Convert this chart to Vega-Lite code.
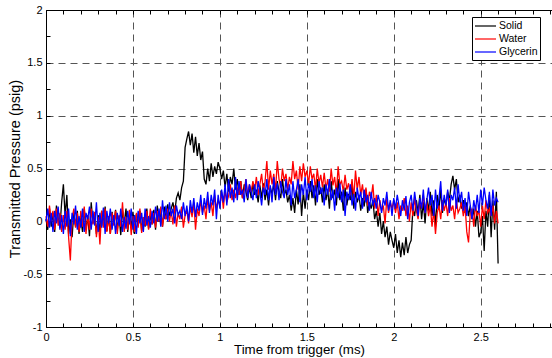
{
"$schema":"https://vega.github.io/schema/vega-lite/v6.json",
"width":506,"height":317,
"autosize":{"type":"none"},
"padding":{"left":46,"top":10,"right":0,"bottom":31},
"background":"white",
"config":{"font":"Liberation Sans","view":{"stroke":"black","strokeWidth":1}},
"data":{"values":[
{"t":0.00,"Solid":0.02,"Water":0.05,"Glycerin":0.00},
{"t":0.01,"Solid":-0.08,"Water":-0.05,"Glycerin":0.12},
{"t":0.02,"Solid":0.12,"Water":0.15,"Glycerin":-0.06},
{"t":0.03,"Solid":-0.05,"Water":0.00,"Glycerin":0.08},
{"t":0.04,"Solid":0.08,"Water":0.10,"Glycerin":-0.10},
{"t":0.05,"Solid":-0.10,"Water":-0.08,"Glycerin":0.10},
{"t":0.06,"Solid":0.15,"Water":0.12,"Glycerin":-0.02},
{"t":0.07,"Solid":0.02,"Water":-0.04,"Glycerin":0.14},
{"t":0.08,"Solid":-0.06,"Water":0.08,"Glycerin":-0.08},
{"t":0.09,"Solid":0.18,"Water":-0.10,"Glycerin":0.06},
{"t":0.10,"Solid":0.35,"Water":0.06,"Glycerin":-0.12},
{"t":0.11,"Solid":0.05,"Water":-0.08,"Glycerin":0.10},
{"t":0.12,"Solid":0.25,"Water":0.10,"Glycerin":-0.05},
{"t":0.13,"Solid":-0.12,"Water":-0.15,"Glycerin":0.12},
{"t":0.14,"Solid":0.02,"Water":-0.37,"Glycerin":-0.14},
{"t":0.15,"Solid":-0.15,"Water":0.02,"Glycerin":0.08},
{"t":0.16,"Solid":0.08,"Water":0.12,"Glycerin":-0.03},
{"t":0.17,"Solid":-0.05,"Water":-0.06,"Glycerin":0.15},
{"t":0.18,"Solid":0.10,"Water":0.08,"Glycerin":-0.08},
{"t":0.19,"Solid":-0.12,"Water":-0.10,"Glycerin":0.05},
{"t":0.20,"Solid":0.03,"Water":0.10,"Glycerin":-0.06},
{"t":0.21,"Solid":-0.10,"Water":-0.05,"Glycerin":0.12},
{"t":0.22,"Solid":0.12,"Water":0.14,"Glycerin":-0.10},
{"t":0.23,"Solid":-0.08,"Water":-0.12,"Glycerin":0.08},
{"t":0.24,"Solid":0.05,"Water":0.06,"Glycerin":0.02},
{"t":0.25,"Solid":-0.14,"Water":-0.08,"Glycerin":0.14},
{"t":0.26,"Solid":0.18,"Water":0.12,"Glycerin":-0.08},
{"t":0.27,"Solid":-0.02,"Water":-0.03,"Glycerin":0.10},
{"t":0.28,"Solid":0.08,"Water":0.09,"Glycerin":-0.04},
{"t":0.29,"Solid":-0.12,"Water":-0.15,"Glycerin":0.18},
{"t":0.30,"Solid":0.06,"Water":0.04,"Glycerin":-0.10},
{"t":0.31,"Solid":-0.10,"Water":-0.22,"Glycerin":0.08},
{"t":0.32,"Solid":0.10,"Water":0.10,"Glycerin":-0.06},
{"t":0.33,"Solid":-0.04,"Water":-0.06,"Glycerin":0.13},
{"t":0.34,"Solid":0.14,"Water":0.12,"Glycerin":-0.12},
{"t":0.35,"Solid":-0.09,"Water":-0.10,"Glycerin":0.10},
{"t":0.36,"Solid":0.04,"Water":0.05,"Glycerin":-0.02},
{"t":0.37,"Solid":-0.12,"Water":-0.12,"Glycerin":0.12},
{"t":0.38,"Solid":0.09,"Water":0.08,"Glycerin":-0.08},
{"t":0.39,"Solid":-0.03,"Water":-0.04,"Glycerin":0.06},
{"t":0.40,"Solid":0.11,"Water":0.10,"Glycerin":-0.12},
{"t":0.41,"Solid":-0.08,"Water":-0.12,"Glycerin":0.08},
{"t":0.42,"Solid":0.05,"Water":0.06,"Glycerin":-0.04},
{"t":0.43,"Solid":-0.13,"Water":-0.05,"Glycerin":0.12},
{"t":0.44,"Solid":0.10,"Water":0.18,"Glycerin":-0.10},
{"t":0.45,"Solid":-0.02,"Water":-0.10,"Glycerin":0.04},
{"t":0.46,"Solid":0.12,"Water":0.04,"Glycerin":-0.07},
{"t":0.47,"Solid":-0.10,"Water":-0.08,"Glycerin":0.10},
{"t":0.48,"Solid":0.06,"Water":0.11,"Glycerin":-0.03},
{"t":0.49,"Solid":-0.06,"Water":-0.13,"Glycerin":0.12},
{"t":0.50,"Solid":0.09,"Water":0.05,"Glycerin":-0.08},
{"t":0.51,"Solid":-0.12,"Water":-0.10,"Glycerin":0.06},
{"t":0.52,"Solid":0.07,"Water":0.08,"Glycerin":-0.12},
{"t":0.53,"Solid":-0.04,"Water":-0.06,"Glycerin":0.10},
{"t":0.54,"Solid":0.10,"Water":0.12,"Glycerin":-0.02},
{"t":0.55,"Solid":-0.09,"Water":-0.11,"Glycerin":0.08},
{"t":0.56,"Solid":0.04,"Water":0.04,"Glycerin":-0.10},
{"t":0.57,"Solid":-0.05,"Water":-0.04,"Glycerin":0.12},
{"t":0.58,"Solid":0.12,"Water":0.10,"Glycerin":-0.04},
{"t":0.59,"Solid":-0.07,"Water":-0.08,"Glycerin":0.05},
{"t":0.60,"Solid":0.06,"Water":0.12,"Glycerin":-0.06},
{"t":0.61,"Solid":-0.03,"Water":-0.03,"Glycerin":0.10},
{"t":0.62,"Solid":0.11,"Water":0.08,"Glycerin":-0.02},
{"t":0.63,"Solid":-0.08,"Water":-0.06,"Glycerin":0.14},
{"t":0.64,"Solid":0.15,"Water":0.10,"Glycerin":0.00},
{"t":0.65,"Solid":0.00,"Water":0.00,"Glycerin":0.12},
{"t":0.66,"Solid":0.09,"Water":0.14,"Glycerin":-0.05},
{"t":0.67,"Solid":-0.05,"Water":-0.05,"Glycerin":0.20},
{"t":0.68,"Solid":0.14,"Water":0.08,"Glycerin":0.02},
{"t":0.69,"Solid":0.02,"Water":0.02,"Glycerin":0.15},
{"t":0.70,"Solid":0.16,"Water":0.12,"Glycerin":0.00},
{"t":0.71,"Solid":0.05,"Water":0.00,"Glycerin":0.18},
{"t":0.72,"Solid":0.12,"Water":0.10,"Glycerin":0.05},
{"t":0.73,"Solid":0.18,"Water":-0.03,"Glycerin":0.12},
{"t":0.74,"Solid":0.08,"Water":0.15,"Glycerin":-0.02},
{"t":0.75,"Solid":0.22,"Water":-0.05,"Glycerin":0.15},
{"t":0.76,"Solid":0.27,"Water":0.08,"Glycerin":0.06},
{"t":0.77,"Solid":0.20,"Water":0.02,"Glycerin":0.10},
{"t":0.78,"Solid":0.32,"Water":0.14,"Glycerin":0.02},
{"t":0.79,"Solid":0.38,"Water":-0.06,"Glycerin":0.18},
{"t":0.80,"Solid":0.70,"Water":0.06,"Glycerin":0.05},
{"t":0.81,"Solid":0.78,"Water":0.10,"Glycerin":0.15},
{"t":0.82,"Solid":0.85,"Water":-0.02,"Glycerin":0.00},
{"t":0.83,"Solid":0.72,"Water":0.14,"Glycerin":0.20},
{"t":0.84,"Solid":0.83,"Water":0.04,"Glycerin":0.08},
{"t":0.85,"Solid":0.65,"Water":0.18,"Glycerin":0.22},
{"t":0.86,"Solid":0.80,"Water":-0.08,"Glycerin":0.04},
{"t":0.87,"Solid":0.62,"Water":0.12,"Glycerin":0.18},
{"t":0.88,"Solid":0.74,"Water":0.05,"Glycerin":0.10},
{"t":0.89,"Solid":0.58,"Water":0.20,"Glycerin":0.25},
{"t":0.90,"Solid":0.66,"Water":0.08,"Glycerin":0.06},
{"t":0.91,"Solid":0.40,"Water":0.15,"Glycerin":0.22},
{"t":0.92,"Solid":0.35,"Water":0.02,"Glycerin":0.12},
{"t":0.93,"Solid":0.50,"Water":0.22,"Glycerin":0.28},
{"t":0.94,"Solid":0.38,"Water":0.10,"Glycerin":0.08},
{"t":0.95,"Solid":0.55,"Water":0.18,"Glycerin":0.25},
{"t":0.96,"Solid":0.42,"Water":0.05,"Glycerin":0.15},
{"t":0.97,"Solid":0.52,"Water":0.25,"Glycerin":0.30},
{"t":0.98,"Solid":0.45,"Water":0.12,"Glycerin":0.02},
{"t":0.99,"Solid":0.56,"Water":0.20,"Glycerin":0.25},
{"t":1.00,"Solid":0.50,"Water":0.15,"Glycerin":0.12},
{"t":1.01,"Solid":0.40,"Water":0.28,"Glycerin":0.30},
{"t":1.02,"Solid":0.48,"Water":0.12,"Glycerin":0.18},
{"t":1.03,"Solid":0.32,"Water":0.30,"Glycerin":0.35},
{"t":1.04,"Solid":0.45,"Water":0.18,"Glycerin":0.15},
{"t":1.05,"Solid":0.28,"Water":0.24,"Glycerin":0.40},
{"t":1.06,"Solid":0.42,"Water":0.35,"Glycerin":0.22},
{"t":1.07,"Solid":0.35,"Water":0.20,"Glycerin":0.32},
{"t":1.08,"Solid":0.50,"Water":0.30,"Glycerin":0.18},
{"t":1.09,"Solid":0.30,"Water":0.22,"Glycerin":0.42},
{"t":1.10,"Solid":0.40,"Water":0.32,"Glycerin":0.20},
{"t":1.11,"Solid":0.25,"Water":0.25,"Glycerin":0.38},
{"t":1.12,"Solid":0.38,"Water":0.38,"Glycerin":0.25},
{"t":1.13,"Solid":0.22,"Water":0.22,"Glycerin":0.30},
{"t":1.14,"Solid":0.35,"Water":0.30,"Glycerin":0.18},
{"t":1.15,"Solid":0.28,"Water":0.40,"Glycerin":0.40},
{"t":1.16,"Solid":0.20,"Water":0.24,"Glycerin":0.22},
{"t":1.17,"Solid":0.33,"Water":0.35,"Glycerin":0.35},
{"t":1.18,"Solid":0.22,"Water":0.28,"Glycerin":0.28},
{"t":1.19,"Solid":0.36,"Water":0.38,"Glycerin":0.20},
{"t":1.20,"Solid":0.25,"Water":0.30,"Glycerin":0.35},
{"t":1.21,"Solid":0.30,"Water":0.42,"Glycerin":0.22},
{"t":1.22,"Solid":0.18,"Water":0.25,"Glycerin":0.38},
{"t":1.23,"Solid":0.34,"Water":0.35,"Glycerin":0.28},
{"t":1.24,"Solid":0.22,"Water":0.45,"Glycerin":0.15},
{"t":1.25,"Solid":0.36,"Water":0.28,"Glycerin":0.32},
{"t":1.26,"Solid":0.20,"Water":0.38,"Glycerin":0.25},
{"t":1.27,"Solid":0.30,"Water":0.57,"Glycerin":0.40},
{"t":1.28,"Solid":0.15,"Water":0.30,"Glycerin":0.20},
{"t":1.29,"Solid":0.32,"Water":0.48,"Glycerin":0.34},
{"t":1.30,"Solid":0.26,"Water":0.35,"Glycerin":0.18},
{"t":1.31,"Solid":0.35,"Water":0.45,"Glycerin":0.42},
{"t":1.32,"Solid":0.20,"Water":0.28,"Glycerin":0.25},
{"t":1.33,"Solid":0.38,"Water":0.57,"Glycerin":0.36},
{"t":1.34,"Solid":0.28,"Water":0.40,"Glycerin":0.20},
{"t":1.35,"Solid":0.22,"Water":0.32,"Glycerin":0.38},
{"t":1.36,"Solid":0.40,"Water":0.50,"Glycerin":0.28},
{"t":1.37,"Solid":0.25,"Water":0.38,"Glycerin":0.22},
{"t":1.38,"Solid":0.30,"Water":0.45,"Glycerin":0.40},
{"t":1.39,"Solid":0.18,"Water":0.30,"Glycerin":0.25},
{"t":1.40,"Solid":0.25,"Water":0.42,"Glycerin":0.35},
{"t":1.41,"Solid":0.10,"Water":0.35,"Glycerin":0.15},
{"t":1.42,"Solid":0.22,"Water":0.57,"Glycerin":0.38},
{"t":1.43,"Solid":0.08,"Water":0.40,"Glycerin":0.22},
{"t":1.44,"Solid":0.30,"Water":0.48,"Glycerin":0.30},
{"t":1.45,"Solid":0.16,"Water":0.30,"Glycerin":0.40},
{"t":1.46,"Solid":0.35,"Water":0.52,"Glycerin":0.18},
{"t":1.47,"Solid":0.05,"Water":0.38,"Glycerin":0.35},
{"t":1.48,"Solid":0.28,"Water":0.55,"Glycerin":0.25},
{"t":1.49,"Solid":0.12,"Water":0.42,"Glycerin":0.42},
{"t":1.50,"Solid":0.30,"Water":0.48,"Glycerin":0.20},
{"t":1.51,"Solid":0.20,"Water":0.35,"Glycerin":0.36},
{"t":1.52,"Solid":0.38,"Water":0.52,"Glycerin":0.28},
{"t":1.53,"Solid":0.22,"Water":0.40,"Glycerin":0.40},
{"t":1.54,"Solid":0.34,"Water":0.45,"Glycerin":0.22},
{"t":1.55,"Solid":0.15,"Water":0.30,"Glycerin":0.34},
{"t":1.56,"Solid":0.40,"Water":0.50,"Glycerin":0.18},
{"t":1.57,"Solid":0.25,"Water":0.36,"Glycerin":0.38},
{"t":1.58,"Solid":0.32,"Water":0.44,"Glycerin":0.26},
{"t":1.59,"Solid":0.18,"Water":0.32,"Glycerin":0.32},
{"t":1.60,"Solid":0.35,"Water":0.46,"Glycerin":0.15},
{"t":1.61,"Solid":0.20,"Water":0.30,"Glycerin":0.35},
{"t":1.62,"Solid":0.30,"Water":0.40,"Glycerin":0.25},
{"t":1.63,"Solid":0.12,"Water":0.28,"Glycerin":0.40},
{"t":1.64,"Solid":0.38,"Water":0.50,"Glycerin":0.20},
{"t":1.65,"Solid":0.22,"Water":0.34,"Glycerin":0.30},
{"t":1.66,"Solid":0.30,"Water":0.42,"Glycerin":0.10},
{"t":1.67,"Solid":0.15,"Water":0.26,"Glycerin":0.32},
{"t":1.68,"Solid":0.40,"Water":0.52,"Glycerin":0.22},
{"t":1.69,"Solid":0.20,"Water":0.35,"Glycerin":0.36},
{"t":1.70,"Solid":0.28,"Water":0.38,"Glycerin":0.18},
{"t":1.71,"Solid":0.10,"Water":0.28,"Glycerin":0.30},
{"t":1.72,"Solid":0.32,"Water":0.44,"Glycerin":0.05},
{"t":1.73,"Solid":0.15,"Water":0.30,"Glycerin":0.28},
{"t":1.74,"Solid":0.26,"Water":0.36,"Glycerin":0.20},
{"t":1.75,"Solid":0.20,"Water":0.25,"Glycerin":0.35},
{"t":1.76,"Solid":0.35,"Water":0.40,"Glycerin":0.15},
{"t":1.77,"Solid":0.12,"Water":0.22,"Glycerin":0.26},
{"t":1.78,"Solid":0.28,"Water":0.48,"Glycerin":0.10},
{"t":1.79,"Solid":0.18,"Water":0.30,"Glycerin":0.32},
{"t":1.80,"Solid":0.25,"Water":0.42,"Glycerin":0.20},
{"t":1.81,"Solid":0.10,"Water":0.25,"Glycerin":0.28},
{"t":1.82,"Solid":0.22,"Water":0.35,"Glycerin":0.12},
{"t":1.83,"Solid":0.14,"Water":0.20,"Glycerin":0.30},
{"t":1.84,"Solid":0.30,"Water":0.32,"Glycerin":0.18},
{"t":1.85,"Solid":0.08,"Water":0.15,"Glycerin":0.25},
{"t":1.86,"Solid":0.18,"Water":0.28,"Glycerin":0.10},
{"t":1.87,"Solid":0.12,"Water":0.22,"Glycerin":0.28},
{"t":1.88,"Solid":0.20,"Water":0.35,"Glycerin":0.15},
{"t":1.89,"Solid":0.02,"Water":0.12,"Glycerin":0.22},
{"t":1.90,"Solid":0.10,"Water":0.25,"Glycerin":0.12},
{"t":1.91,"Solid":-0.05,"Water":0.05,"Glycerin":0.25},
{"t":1.92,"Solid":0.08,"Water":0.20,"Glycerin":0.18},
{"t":1.93,"Solid":-0.12,"Water":0.10,"Glycerin":0.08},
{"t":1.94,"Solid":0.00,"Water":0.15,"Glycerin":0.22},
{"t":1.95,"Solid":-0.15,"Water":-0.02,"Glycerin":0.15},
{"t":1.96,"Solid":-0.05,"Water":0.22,"Glycerin":0.28},
{"t":1.97,"Solid":-0.22,"Water":0.08,"Glycerin":0.10},
{"t":1.98,"Solid":-0.10,"Water":0.18,"Glycerin":0.20},
{"t":1.99,"Solid":-0.18,"Water":0.12,"Glycerin":0.05},
{"t":2.00,"Solid":-0.25,"Water":0.20,"Glycerin":0.22},
{"t":2.01,"Solid":-0.12,"Water":0.08,"Glycerin":0.12},
{"t":2.02,"Solid":-0.30,"Water":0.18,"Glycerin":0.25},
{"t":2.03,"Solid":-0.18,"Water":0.02,"Glycerin":0.15},
{"t":2.04,"Solid":-0.34,"Water":0.15,"Glycerin":0.05},
{"t":2.05,"Solid":-0.20,"Water":0.10,"Glycerin":0.20},
{"t":2.06,"Solid":-0.32,"Water":0.22,"Glycerin":0.10},
{"t":2.07,"Solid":-0.15,"Water":0.05,"Glycerin":0.24},
{"t":2.08,"Solid":-0.30,"Water":0.15,"Glycerin":0.02},
{"t":2.09,"Solid":-0.22,"Water":0.00,"Glycerin":0.18},
{"t":2.10,"Solid":-0.18,"Water":0.18,"Glycerin":0.25},
{"t":2.11,"Solid":0.12,"Water":0.05,"Glycerin":0.10},
{"t":2.12,"Solid":0.05,"Water":0.22,"Glycerin":0.28},
{"t":2.13,"Solid":0.20,"Water":0.10,"Glycerin":0.15},
{"t":2.14,"Solid":0.08,"Water":0.02,"Glycerin":0.05},
{"t":2.15,"Solid":0.25,"Water":0.20,"Glycerin":0.22},
{"t":2.16,"Solid":0.02,"Water":0.12,"Glycerin":0.12},
{"t":2.17,"Solid":0.18,"Water":0.25,"Glycerin":0.30},
{"t":2.18,"Solid":-0.02,"Water":0.08,"Glycerin":0.08},
{"t":2.19,"Solid":0.22,"Water":0.18,"Glycerin":0.20},
{"t":2.20,"Solid":0.10,"Water":0.05,"Glycerin":0.32},
{"t":2.21,"Solid":0.28,"Water":0.15,"Glycerin":0.15},
{"t":2.22,"Solid":0.05,"Water":-0.05,"Glycerin":0.25},
{"t":2.23,"Solid":0.20,"Water":0.10,"Glycerin":0.05},
{"t":2.24,"Solid":-0.05,"Water":-0.12,"Glycerin":0.30},
{"t":2.25,"Solid":0.25,"Water":0.08,"Glycerin":0.12},
{"t":2.26,"Solid":0.12,"Water":0.15,"Glycerin":0.22},
{"t":2.27,"Solid":0.30,"Water":0.02,"Glycerin":0.38},
{"t":2.28,"Solid":0.08,"Water":0.20,"Glycerin":0.10},
{"t":2.29,"Solid":0.22,"Water":0.10,"Glycerin":0.25},
{"t":2.30,"Solid":0.15,"Water":0.18,"Glycerin":0.15},
{"t":2.31,"Solid":0.28,"Water":0.05,"Glycerin":0.30},
{"t":2.32,"Solid":0.20,"Water":0.22,"Glycerin":0.08},
{"t":2.33,"Solid":0.35,"Water":0.10,"Glycerin":0.25},
{"t":2.34,"Solid":0.43,"Water":0.15,"Glycerin":0.20},
{"t":2.35,"Solid":0.30,"Water":0.02,"Glycerin":0.32},
{"t":2.36,"Solid":0.40,"Water":0.20,"Glycerin":0.12},
{"t":2.37,"Solid":0.18,"Water":0.08,"Glycerin":0.35},
{"t":2.38,"Solid":0.25,"Water":0.12,"Glycerin":0.18},
{"t":2.39,"Solid":0.12,"Water":0.18,"Glycerin":0.28},
{"t":2.40,"Solid":0.20,"Water":0.05,"Glycerin":0.10},
{"t":2.41,"Solid":0.08,"Water":0.15,"Glycerin":0.22},
{"t":2.42,"Solid":0.18,"Water":-0.10,"Glycerin":0.05},
{"t":2.43,"Solid":0.05,"Water":-0.20,"Glycerin":0.28},
{"t":2.44,"Solid":0.15,"Water":0.08,"Glycerin":0.15},
{"t":2.45,"Solid":0.02,"Water":0.12,"Glycerin":0.02},
{"t":2.46,"Solid":0.12,"Water":-0.05,"Glycerin":0.20},
{"t":2.47,"Solid":-0.05,"Water":0.15,"Glycerin":0.10},
{"t":2.48,"Solid":0.10,"Water":0.05,"Glycerin":0.25},
{"t":2.49,"Solid":-0.15,"Water":0.10,"Glycerin":0.08},
{"t":2.50,"Solid":-0.10,"Water":-0.05,"Glycerin":0.30},
{"t":2.51,"Solid":0.05,"Water":0.15,"Glycerin":0.15},
{"t":2.52,"Solid":-0.28,"Water":0.02,"Glycerin":0.32},
{"t":2.53,"Solid":0.10,"Water":0.20,"Glycerin":0.20},
{"t":2.54,"Solid":-0.05,"Water":0.08,"Glycerin":0.12},
{"t":2.55,"Solid":0.25,"Water":0.12,"Glycerin":0.28},
{"t":2.56,"Solid":-0.15,"Water":0.05,"Glycerin":0.05},
{"t":2.57,"Solid":0.20,"Water":0.15,"Glycerin":0.30},
{"t":2.58,"Solid":-0.08,"Water":-0.02,"Glycerin":0.15},
{"t":2.59,"Solid":0.28,"Water":0.10,"Glycerin":0.22},
{"t":2.60,"Solid":-0.40,"Water":-0.02,"Glycerin":0.18}
]},
"transform":[{"fold":["Solid","Water","Glycerin"],"as":["series","p"]}],
"layer":[
{"mark":{"type":"line","strokeWidth":1.3},
 "encoding":{
  "x":{"field":"t","type":"quantitative","scale":{"domain":[0,2.91],"nice":false,"zero":false},
   "axis":{"values":[0,0.1,0.2,0.3,0.4,0.5,0.6,0.7,0.8,0.9,1,1.1,1.2,1.3,1.4,1.5,1.6,1.7,1.8,1.9,2,2.1,2.2,2.3,2.4,2.5,2.6,2.7,2.8,2.9],
    "labelExpr":"abs(datum.value*2-round(datum.value*2))<0.001 ? ''+datum.value : ''",
    "labelOverlap":false,"labelFlush":false,"labelFontSize":11,"labelColor":"black","labelPadding":8,
    "tickSize":-4,"tickColor":"black","domainColor":"black",
    "title":"Time from trigger (ms)","titleFontSize":13.3,"titleFontWeight":"normal","titleColor":"black","titlePadding":0,
    "grid":true,"gridColor":"#555","gridDash":[7,5],
    "gridOpacity":{"condition":{"test":"abs(datum.value*2-round(datum.value*2))<0.001 && datum.value>0","value":1},"value":0}}},
  "y":{"field":"p","type":"quantitative","scale":{"domain":[-1,2],"nice":false,"zero":false},
   "axis":{"values":[-1,-0.75,-0.5,-0.25,0,0.25,0.5,0.75,1,1.25,1.5,1.75,2],
    "labelExpr":"abs(datum.value*2-round(datum.value*2))<0.001 ? ''+datum.value : ''",
    "labelOverlap":false,"labelFlush":false,"labelFontSize":11,"labelColor":"black","labelPadding":8,
    "tickSize":-4,"tickColor":"black","domainColor":"black",
    "title":"Transmitted Pressure (psig)","titleFontSize":14.5,"titleFontWeight":"normal","titleColor":"black","titlePadding":1,
    "grid":true,"gridColor":"#555","gridDash":[7,5],
    "gridOpacity":{"condition":{"test":"abs(datum.value*2-round(datum.value*2))<0.001 && datum.value>-1 && datum.value<2","value":1},"value":0}}},
  "color":{"field":"series","type":"nominal","scale":{"domain":["Solid","Water","Glycerin"],"range":["#000000","#ff0000","#0000ff"]},
   "legend":{"orient":"none","legendX":426,"legendY":7,"title":null,"strokeColor":"black","fillColor":"white","padding":2,
    "symbolType":"M-1,0H2.5","symbolSize":144,"symbolStrokeWidth":1.2,"labelFontSize":10.5,"labelColor":"black","labelOffset":11,"rowPadding":0}}
 }},
{"mark":{"type":"line","opacity":0},
 "encoding":{
  "x":{"field":"t","type":"quantitative",
   "axis":{"orient":"top","values":[0,0.1,0.2,0.3,0.4,0.5,0.6,0.7,0.8,0.9,1,1.1,1.2,1.3,1.4,1.5,1.6,1.7,1.8,1.9,2,2.1,2.2,2.3,2.4,2.5,2.6,2.7,2.8,2.9],
    "labels":false,"title":null,"grid":false,"domain":false,"tickSize":-4,"tickColor":"black"}}
 }}
],
"resolve":{"axis":{"x":"independent"}}
}
